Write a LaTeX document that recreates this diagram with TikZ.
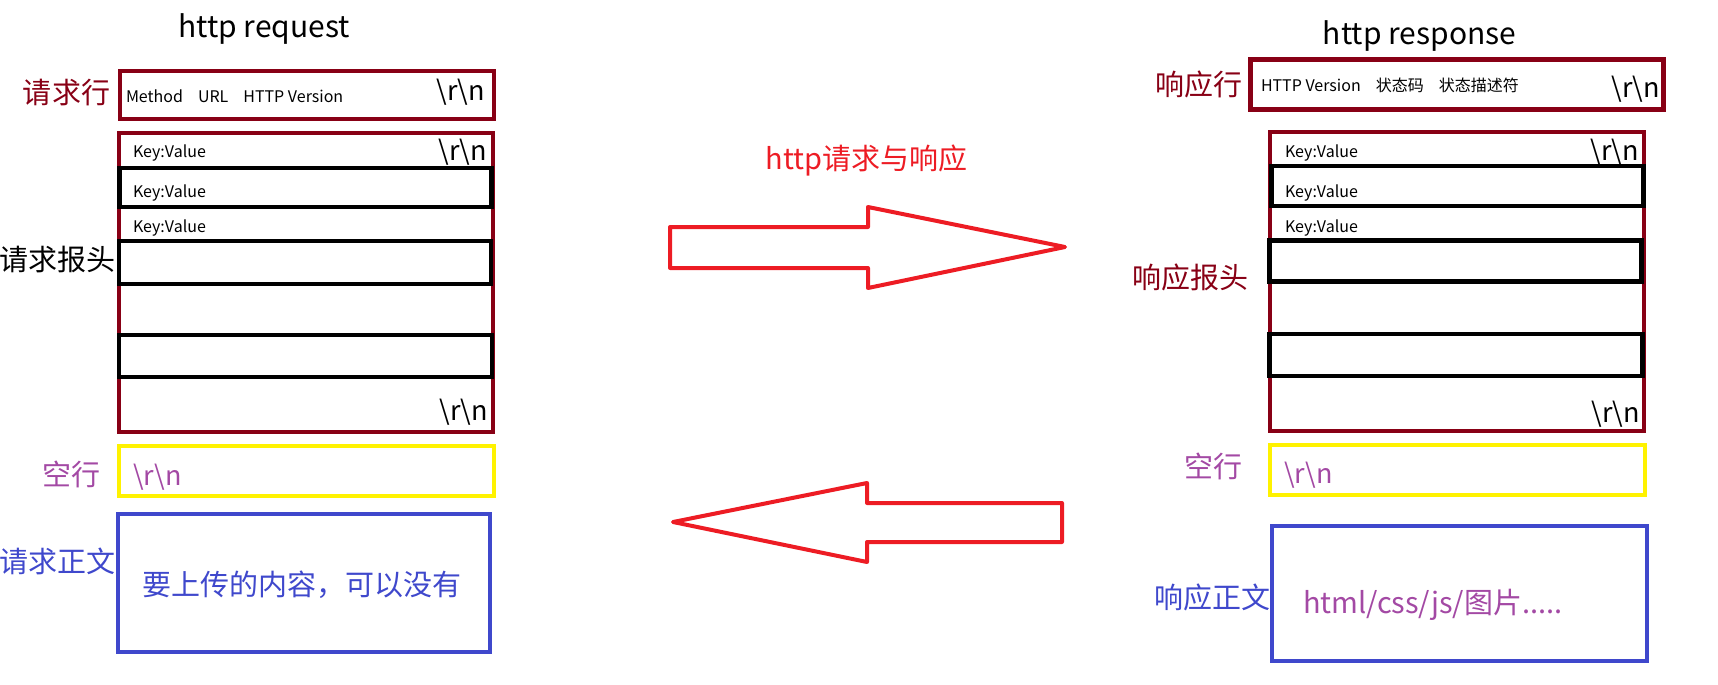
\documentclass[tikz,border=0pt]{standalone}
\usepackage{fontspec}
\setmainfont{Noto Sans CJK SC}
\definecolor{dred}{RGB}{136,0,21}
\definecolor{yel}{RGB}{255,242,0}
\definecolor{blu}{RGB}{63,72,204}
\definecolor{pur}{RGB}{163,73,164}
\definecolor{brd}{RGB}{237,28,36}
\newcommand{\rn}{\textbackslash r\textbackslash n}
\newcommand{\fs}[1]{\fontsize{#1}{#1}\selectfont}
\begin{document}
\begin{tikzpicture}[x=1pt,y=-1pt,
  frame/.style={draw=#1, line width=4.6pt, inner sep=0pt, outer sep=0pt},
  lbl/.style={inner sep=0pt, outer sep=0pt},
  title/.style={lbl, font=\fs{30}, anchor=base},
  kv/.style={lbl, font=\fs{16}, anchor=base west},
  small/.style={lbl, font=\fs{16}, anchor=base west},
  crlf/.style={lbl, font=\fs{27}},
  side/.style={lbl, font=\fs{29}},
  bigarrow/.style={draw=brd, line width=4pt, line join=round}
]
\useasboundingbox (0,0) rectangle (1718,685);

% ---------- request ----------
\node[title] (reqtitle) at (264,37.5) {http request};

\node[frame=dred, minimum width=374pt, minimum height=48pt] (reqline) at (307,95) {};
\node[side, text=dred, anchor=east] (reqlinelbl) at (110,93) {请求行};
\node[small] (reqlinetxt) at (126,102) {Method\hspace{15pt}URL\hspace{15pt}HTTP Version};
\node[crlf, anchor=base east] (reqlinecr) at (485,100) {\rn};

\node[frame=dred, minimum width=374pt, minimum height=299pt] (reqhead) at (306,282.5) {};
\node[frame=black, minimum width=372pt, minimum height=39pt] (reqb1) at (305.5,187.5) {};
\node[frame=black, minimum width=372pt, minimum height=43pt] (reqb2) at (305,262.5) {};
\node[frame=black, minimum width=373pt, minimum height=42pt] (reqb3) at (305.5,356) {};
\node[kv] (reqkv1) at (133,157) {Key:Value};
\node[kv] (reqkv2) at (133,197) {Key:Value};
\node[kv] (reqkv3) at (133,232) {Key:Value};
\node[crlf, anchor=base east] (reqheadcr1) at (487,160) {\rn};
\node[crlf, anchor=base east] (reqheadcr2) at (488,420) {\rn};
\node[side, anchor=east] (reqheadlbl) at (115,260) {请求报头};

\node[frame=yel, minimum width=375pt, minimum height=50pt] (reqblank) at (306.5,471) {};
\node[side, text=pur, anchor=east] (reqblanklbl) at (100,474) {空行};
\node[crlf, text=pur, anchor=base west] (reqblankcr) at (133,485) {\rn};

\node[frame=blu, minimum width=372pt, minimum height=138pt] (reqbody) at (304,583) {};
\node[side, text=blu, anchor=east] (reqbodylbl) at (115,561) {请求正文};
\node[side, text=blu, anchor=west] (reqbodytxt) at (142,585) {要上传的内容，可以没有};

% ---------- response ----------
\node[title] (restitle) at (1419.5,45) {http response};

\node[frame=dred, minimum width=413pt, minimum height=50pt] (resline) at (1457,84.5) {};
\node[side, text=dred, anchor=east] (reslinelbl) at (1242,84) {响应行};
\node[small] (reslinetxt) at (1261,91) {HTTP Version\hspace{15pt}状态码\hspace{15pt}状态描述符};
\node[crlf, anchor=base east] (reslinecr) at (1660,97) {\rn};

\node[frame=dred, minimum width=374pt, minimum height=299pt] (reshead) at (1457,281.5) {};
\node[frame=black, minimum width=372pt, minimum height=40pt] (resb1) at (1457.5,186) {};
\node[frame=black, minimum width=372pt, minimum height=41pt] (resb2) at (1455.5,261) {};
\node[frame=black, minimum width=373pt, minimum height=42pt] (resb3) at (1456,355) {};
\node[kv] (reskv1) at (1285,157) {Key:Value};
\node[kv] (reskv2) at (1285,197) {Key:Value};
\node[kv] (reskv3) at (1285,232) {Key:Value};
\node[crlf, anchor=base east] (resheadcr1) at (1639,160) {\rn};
\node[crlf, anchor=base east] (resheadcr2) at (1640,422) {\rn};
\node[side, text=dred, anchor=east] (resheadlbl) at (1248,277) {响应报头};

\node[frame=yel, minimum width=375pt, minimum height=50pt] (resblank) at (1457.5,470) {};
\node[side, text=pur, anchor=east] (resblanklbl) at (1242,466) {空行};
\node[crlf, text=pur, anchor=base west] (resblankcr) at (1284,483) {\rn};

\node[frame=blu, minimum width=375pt, minimum height=135pt] (resbody) at (1459.5,593.5) {};
\node[side, text=blu, anchor=east] (resbodylbl) at (1270,597) {响应正文};
\node[side, text=pur, anchor=west] (resbodytxt) at (1303,605) {html/css/js/图片.....};

% ---------- middle ----------
\node[lbl, font=\fs{29}, text=brd, anchor=base] (midtitle) at (866.5,169) {http请求与响应};
\draw[bigarrow] (670,227) -- (868,227) -- (868,207) -- (1065,247) -- (868,288) -- (868,268) -- (670,268) -- cycle;
\draw[bigarrow] (1062,503) -- (867,503) -- (867,483) -- (673,522) -- (867,562) -- (867,542) -- (1062,542) -- cycle;
\end{tikzpicture}
\end{document}
